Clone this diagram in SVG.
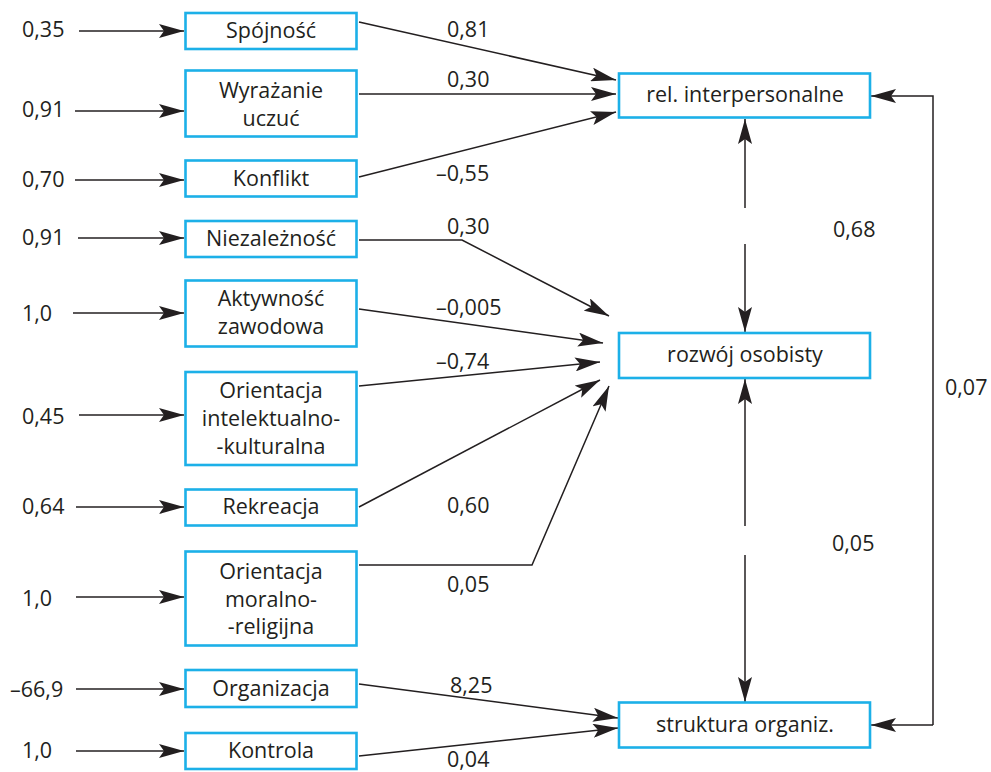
<svg xmlns="http://www.w3.org/2000/svg" width="991" height="772" viewBox="0 0 991 772">
<style>
  .box { fill: #ffffff; stroke: #1cb0e8; stroke-width: 2.6; }
  .t { font-family: "Open Sans", "Liberation Sans", sans-serif; font-size: 21.5px; fill: #231f20; }
  .c { text-anchor: middle; }
  .ln { fill: none; stroke: #231f20; stroke-width: 1.5; marker-end: url(#ah); }
</style>
<defs>
  <marker id="ah" viewBox="0 0 25 14" refX="25" refY="7" markerWidth="25" markerHeight="14" markerUnits="userSpaceOnUse" orient="auto">
    <path d="M0,0 L25,7 L0,14 L5,7 Z" fill="#231f20"/>
  </marker>
</defs>
<rect width="991" height="772" fill="#ffffff"/>

<g id="connectors">
  <line class="ln" x1="79" y1="31" x2="184" y2="31"/>
  <line class="ln" x1="75" y1="111" x2="184" y2="111"/>
  <line class="ln" x1="75" y1="180" x2="184" y2="180"/>
  <line class="ln" x1="78" y1="238" x2="184" y2="238"/>
  <line class="ln" x1="73" y1="313" x2="184" y2="313"/>
  <line class="ln" x1="79" y1="415" x2="184" y2="415"/>
  <line class="ln" x1="76" y1="507" x2="184" y2="507"/>
  <line class="ln" x1="76" y1="597" x2="184" y2="597"/>
  <line class="ln" x1="76" y1="689" x2="184" y2="689"/>
  <line class="ln" x1="76" y1="751" x2="184" y2="751"/>
  <line class="ln" x1="359" y1="22" x2="616" y2="80"/>
  <line class="ln" x1="359" y1="94" x2="616" y2="94"/>
  <line class="ln" x1="359" y1="177" x2="616" y2="112"/>
  <polyline class="ln" points="359,240 462,240 609,316"/>
  <line class="ln" x1="359" y1="309" x2="603" y2="343"/>
  <line class="ln" x1="359" y1="386" x2="600" y2="362"/>
  <line class="ln" x1="359" y1="507" x2="600" y2="380"/>
  <polyline class="ln" points="359,565 532,565 609,386"/>
  <line class="ln" x1="359" y1="684" x2="618" y2="718"/>
  <line class="ln" x1="359" y1="756" x2="618" y2="728"/>
  <line class="ln" x1="745" y1="208" x2="745" y2="119"/>
  <line class="ln" x1="745" y1="244" x2="745" y2="332"/>
  <line class="ln" x1="745" y1="526" x2="745" y2="379"/>
  <line class="ln" x1="745" y1="555" x2="745" y2="702"/>
  <polyline class="ln" points="933,725 933,96 871,96"/>
  <line class="ln" x1="933" y1="725" x2="871" y2="725"/>
</g>

<g id="labels">
  <text class="t" x="22" y="37">0,35</text>
  <text class="t" x="22" y="117">0,91</text>
  <text class="t" x="22" y="187">0,70</text>
  <text class="t" x="22" y="245">0,91</text>
  <text class="t" x="22" y="321">1,0</text>
  <text class="t" x="22" y="424">0,45</text>
  <text class="t" x="22" y="514">0,64</text>
  <text class="t" x="22" y="606">1,0</text>
  <text class="t" x="10" y="697">–66,9</text>
  <text class="t" x="22" y="758">1,0</text>

  <text class="t" x="447" y="37">0,81</text>
  <text class="t" x="447" y="87">0,30</text>
  <text class="t" x="436" y="181">–0,55</text>
  <text class="t" x="447" y="234">0,30</text>
  <text class="t" x="436" y="315">–0,005</text>
  <text class="t" x="436" y="369">–0,74</text>
  <text class="t" x="447" y="513">0,60</text>
  <text class="t" x="447" y="592">0,05</text>
  <text class="t" x="450" y="693">8,25</text>
  <text class="t" x="447" y="767">0,04</text>
  <text class="t" x="833" y="237">0,68</text>
  <text class="t" x="832" y="551">0,05</text>
  <text class="t" x="945" y="395">0,07</text>
</g>

<g id="n-spojnosc"><rect class="box" x="185.5" y="13" width="171" height="36"/><text class="t c" x="271" y="38">Spójność</text></g>
<g id="n-wyrazanie"><rect class="box" x="185.5" y="70.5" width="171" height="66"/><text class="t c" x="271" y="98">Wyrażanie</text><text class="t c" x="271" y="126">uczuć</text></g>
<g id="n-konflikt"><rect class="box" x="185.5" y="160.5" width="171" height="36"/><text class="t c" x="271" y="186">Konflikt</text></g>
<g id="n-niezaleznosc"><rect class="box" x="185.5" y="221" width="171" height="36"/><text class="t c" x="271" y="246">Niezależność</text></g>
<g id="n-aktywnosc"><rect class="box" x="185.5" y="280.5" width="171" height="66"/><text class="t c" x="271" y="306">Aktywność</text><text class="t c" x="271" y="334">zawodowa</text></g>
<g id="n-orient-int"><rect class="box" x="185.5" y="372" width="171" height="93"/><text class="t c" x="271" y="398">Orientacja</text><text class="t c" x="271" y="426">intelektualno-</text><text class="t c" x="271" y="454">-kulturalna</text></g>
<g id="n-rekreacja"><rect class="box" x="185.5" y="489.5" width="171" height="36"/><text class="t c" x="271" y="514">Rekreacja</text></g>
<g id="n-orient-mor"><rect class="box" x="185.5" y="551.5" width="171" height="94"/><text class="t c" x="271" y="579">Orientacja</text><text class="t c" x="271" y="607">moralno-</text><text class="t c" x="271" y="634">-religijna</text></g>
<g id="n-organizacja"><rect class="box" x="185.5" y="670" width="171" height="37"/><text class="t c" x="271" y="696">Organizacja</text></g>
<g id="n-kontrola"><rect class="box" x="185.5" y="733" width="171" height="36"/><text class="t c" x="271" y="758">Kontrola</text></g>

<g id="n-rel"><rect class="box" x="619" y="73.5" width="251" height="44"/><text class="t c" x="745" y="102">rel. interpersonalne</text></g>
<g id="n-rozwoj"><rect class="box" x="619" y="333" width="251" height="45"/><text class="t c" x="745" y="362">rozwój osobisty</text></g>
<g id="n-struktura"><rect class="box" x="619" y="702.5" width="251" height="45"/><text class="t c" x="745" y="732">struktura organiz.</text></g>
</svg>
